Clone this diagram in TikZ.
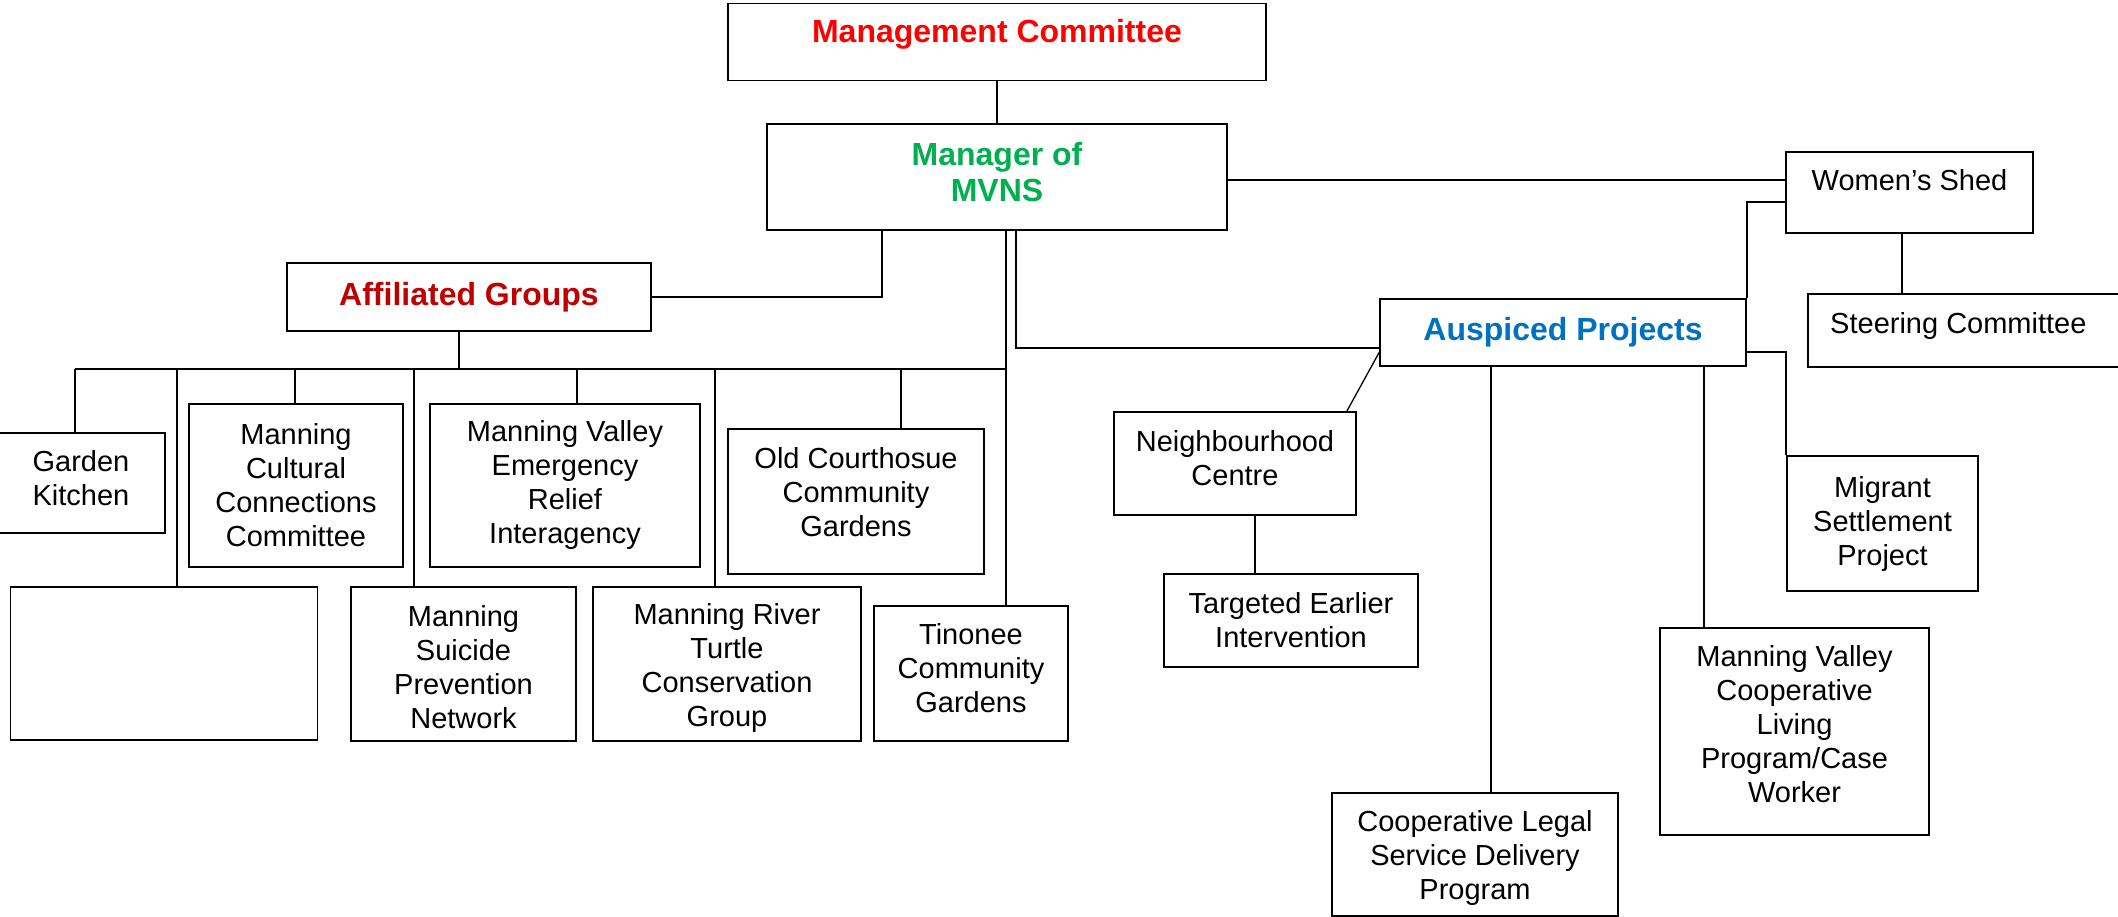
\documentclass[tikz,border=0pt]{standalone}
\usepackage{fontspec}
\setmainfont{Liberation Sans}
\newcommand\boxfont{\fontsize{29}{34}\selectfont}
\newcommand\headfont{\fontsize{32}{36.5}\selectfont\bfseries}
\definecolor{mcred}{RGB}{255,0,0}
\definecolor{mgrgreen}{RGB}{0,176,80}
\definecolor{agred}{RGB}{192,0,0}
\definecolor{apblue}{RGB}{0,112,192}
\begin{document}
\begin{tikzpicture}[x=1pt,y=-1pt,
        box/.style={draw,line width=1.8pt,inner sep=0pt,align=center,font=\boxfont},
        txt/.style={inner sep=0pt,align=center,font=\boxfont},
        head/.style={txt,font=\headfont},
        dims/.style 2 args={minimum width=#1pt,minimum height=#2pt},
        link/.style={line width=1.3pt}]
    \useasboundingbox (0,0) rectangle (2118,917);
    % top of the tree
    \node[box,dims={538}{77}] (mc) at (997,42) {};
    \node[head,text=mcred] (mctxt) at ([yshift=8pt]mc) {Management Committee};
    \node[box,dims={460}{106}] (mgr) at (997,177) {};
    \node[head,text=mgrgreen] (mgrtxt) at ([yshift=5pt]mgr) {Manager of\\MVNS};
    \node[box,dims={364}{68},font=\headfont,text=agred] (ag) at (469,297) {Affiliated Groups};
    \node[box,dims={366}{67},font=\headfont,text=apblue] (ausp) at (1563,332.5) {Auspiced Projects};
    % affiliated groups
    \node[box,dims={168}{100}] (gk) at (81,483) {};
    \node[txt] (gktxt) at ([yshift=5pt]gk) {Garden\\Kitchen};
    \node[box,dims={214}{163}] (cult) at (296,485.5) {Manning\\Cultural\\Connections\\Committee};
    \node[box,dims={270}{163}] (emer) at (565,485.5) {Manning Valley\\Emergency\\Relief\\Interagency};
    \node[box,dims={256}{145}] (oldc) at (856,501.5) {};
    \node[txt] (oldctxt) at ([yshift=9.5pt]oldc) {Old Courthosue\\Community\\Gardens};
    \node[box,dims={307}{153}] (blank) at (164,663.5) {};
    \node[box,dims={225}{154}] (sui) at (463.5,664) {};
    \node[txt] (suitxt) at ([yshift=-3pt]sui) {Manning\\Suicide\\Prevention\\Network};
    \node[box,dims={268}{154}] (turt) at (727,664) {};
    \node[txt] (turttxt) at ([yshift=-4pt]turt) {Manning River\\Turtle\\Conservation\\Group};
    \node[box,dims={194}{135}] (tin) at (971,673.5) {};
    \node[txt] (tintxt) at ([yshift=5pt]tin) {Tinonee\\Community\\Gardens};
    % auspiced projects
    \node[box,dims={247}{81}] (shed) at (1909.5,192.5) {};
    \node[txt,anchor=base] (shedtxt) at (1909.5,191) {Women’s Shed};
    \node[box,dims={322}{73}] (steer) at (1969,330.5) {};
    \node[txt,anchor=base west] (steertxt) at (1830,334) {Steering Committee};
    \node[box,dims={242}{103}] (nbc) at (1235,463.5) {};
    \node[txt] (nbctxt) at ([yshift=5pt]nbc) {Neighbourhood\\Centre};
    \node[box,dims={254}{93}] (tei) at (1291,620.5) {Targeted Earlier\\Intervention};
    \node[box,dims={191}{135}] (mig) at (1882.5,523.5) {Migrant\\Settlement\\Project};
    \node[box,dims={286}{123}] (legal) at (1475,854.5) {};
    \node[txt] (legaltxt) at ([yshift=-3pt]legal) {Cooperative Legal\\Service Delivery\\Program};
    \node[box,dims={269}{207}] (coop) at (1794.5,731.5) {};
    \node[txt] (cooptxt) at ([yshift=7pt]coop) {Manning Valley\\Cooperative\\Living\\Program/Case\\Worker};
    % links
    \coordinate (busw) at (75,369);
    \draw[link] (mc.south) -- (mc.south |- mgr.north);
    \draw[link] (ag.east) -| ([xshift=-115pt]mgr.south);
    \draw[link] ([xshift=-10pt]ag.south) -- ([xshift=-10pt]ag.south |- busw);
    \draw[link] (busw) -- ([xshift=9pt]mgr.south |- busw);
    \draw[link] ([xshift=9pt]mgr.south) -- ([xshift=9pt]mgr.south |- tin.north);
    \foreach \n/\dx in {gk/-6,blank/13,cult/-1,sui/-49.5,emer/12,turt/-12,oldc/45}
        \draw[link] ([xshift=\dx pt]\n.north |- busw) -- ([xshift=\dx pt]\n.north);
    \draw[link] ([xshift=19pt]mgr.south) |- ([yshift=-15.5pt]ausp.west);
    \draw[link] ([yshift=-3pt]mgr.east) -- ([yshift=-3pt]mgr.east -| shed.west);
    \draw[link] (ausp.north east) |- ([yshift=-9.5pt]shed.west);
    \draw[link] ([xshift=-7.5pt]shed.south) -- ([xshift=-7.5pt]shed.south |- steer.north);
    \draw[link] ([yshift=-19.5pt]ausp.east) -| (mig.north west);
    \draw[link] ([yshift=-20pt]ausp.west) -- ([xshift=-10pt]nbc.north east);
    \draw[link] ([xshift=20pt]nbc.south) -- ([xshift=20pt]nbc.south |- tei.north);
    \draw[link] ([xshift=-72pt]ausp.south) -- ([xshift=-72pt]ausp.south |- legal.north);
    \draw[link] ([xshift=141pt]ausp.south) -- ([xshift=141pt]ausp.south |- coop.north);
\end{tikzpicture}
\end{document}
